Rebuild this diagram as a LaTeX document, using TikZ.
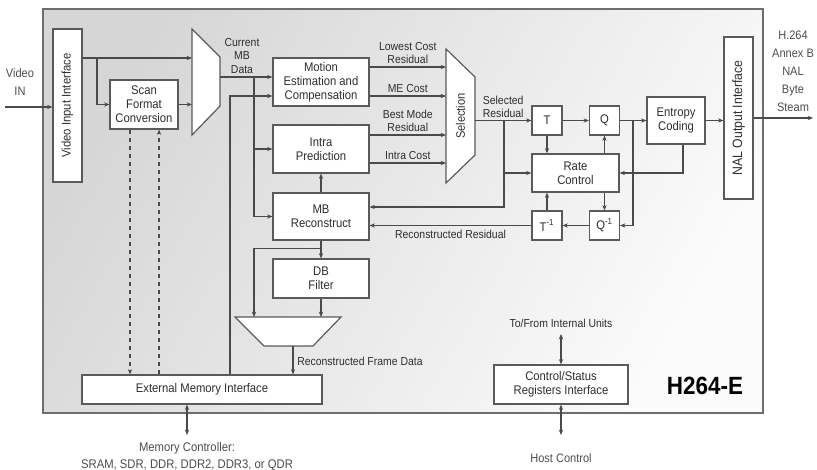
\documentclass[tikz,border=0pt]{standalone}
\usepackage{fontspec}
\setmainfont{Liberation Sans}[FakeStretch=0.9]
\usetikzlibrary{arrows.meta,calc}

\definecolor{boxline}{HTML}{5A5A5A}
\definecolor{wirec}{HTML}{4A4A4A}
\definecolor{txt}{HTML}{2E2E2E}
\definecolor{panel}{HTML}{6E6E6E}
\newcommand{\pxu}{0.75pt}

\tikzset{
	blk/.style={draw=boxline, fill=white, line width=0.9pt, align=center,
		inner sep=0pt, text=txt, font=\fontsize{9.4}{10.5}\selectfont},
	lbl/.style={align=center, inner sep=0pt, text=txt, font=\fontsize{8.7}{9.8}\selectfont},
	side/.style={align=center, inner sep=0pt, text=txt!85!white, font=\fontsize{9.2}{13.5}\selectfont},
	vtxt/.style={rotate=90, inner sep=0pt, text=txt, font=\fontsize{9.4}{11}\selectfont},
	wire/.style={draw=wirec, line width=0.8pt},
	mux/.style={draw=boxline, fill=white, line width=0.9pt, line join=miter},
}

\begin{document}
\begin{tikzpicture}[x=0.75pt, y=-0.75pt, >={Stealth[length=4pt,width=3.2pt]}]
	\useasboundingbox (0,0) rectangle (817,470);
	% shaded core panel
	\draw[draw=panel, line width=1pt, top color=gray!32, bottom color=gray!3, shading angle=60] (43,9) rectangle (763,413);

	% interfaces
	\node[blk, minimum width=29*\pxu, minimum height=153*\pxu] (vin) at (67.5,105.5) {};
	\node[vtxt] (vintxt) at (vin) {Video Input Interface};
	\node[blk, minimum width=29*\pxu, minimum height=162*\pxu] (nal) at (738.5,118) {};
	\node[vtxt, font=\fontsize{10.2}{12}\selectfont] (naltxt) at (nal) {NAL Output Interface};
	\node[blk, minimum width=240*\pxu, minimum height=29*\pxu] (emi) at (202,389.5) {External Memory Interface};
	\node[blk, minimum width=134*\pxu, minimum height=39*\pxu] (csr) at (561,384.5) {Control/Status\\Registers Interface};

	% processing blocks
	\node[blk, minimum width=68*\pxu, minimum height=49*\pxu] (sfc) at (144,104.5) {Scan\\Format\\Conversion};
	\node[blk, minimum width=96*\pxu, minimum height=48*\pxu] (me) at (321,82) {Motion\\Estimation and\\Compensation};
	\node[blk, minimum width=96*\pxu, minimum height=48*\pxu] (ip) at (321,149) {Intra\\Prediction};
	\node[blk, minimum width=96*\pxu, minimum height=47*\pxu] (mbr) at (321,216.5) {MB\\Reconstruct};
	\node[blk, minimum width=96*\pxu, minimum height=39*\pxu] (dbf) at (321,278.5) {DB\\Filter};
	\node[blk, minimum width=30*\pxu, minimum height=29*\pxu] (tq) at (547,120.5) {T};
	\node[blk, minimum width=30*\pxu, minimum height=29*\pxu] (qq) at (604.5,120.5) {Q};
	\node[blk, minimum width=87*\pxu, minimum height=38*\pxu] (rc) at (575.5,173) {Rate\\Control};
	\node[blk, minimum width=30*\pxu, minimum height=29*\pxu] (tinv) at (547,225.5) {T\textsuperscript{-1}};
	\node[blk, minimum width=30*\pxu, minimum height=29*\pxu] (qinv) at (604.5,225.5) {Q\textsuperscript{-1}};
	\node[blk, minimum width=58*\pxu, minimum height=47*\pxu] (ent) at (676,120.5) {Entropy\\Coding};

	% multiplexers
	\draw[mux] (192,29) -- (220,57) -- (220,106) -- (192,135) -- cycle;
	\coordinate (mxin1) at (192,58);
	\coordinate (mxin2) at (192,104.5);
	\coordinate (mxout) at (220,77);
	\draw[mux] (446,49) -- (475,77) -- (475,155) -- (446,183) -- cycle;
	\node[vtxt, font=\fontsize{9.2}{11}\selectfont] (seltxt) at (460.5,116) {Selection};
	\coordinate (si1) at (446,67);
	\coordinate (si2) at (446,96);
	\coordinate (si3) at (446,135);
	\coordinate (si4) at (446,163);
	\coordinate (selout) at (475,120.5);
	\draw[mux] (235,317) -- (341,317) -- (313,346) -- (264,346) -- cycle;
	\coordinate (mgin1) at (254,317);
	\coordinate (mgin2) at (321,317);
	\coordinate (mgout) at (293,346);

	% video in
	\coordinate (vidin) at (5,107);
	\node[side] (vidtxt) at (20,82) {Video\\IN};
	\draw[wire,->] (vidin) -- (vidin -| vin.west);
	\draw[wire,->] (mxin1 -| vin.east) -- (mxin1);
	\coordinate (sp1) at (97,58);
	\draw[wire,->] (sp1) |- (sfc.west);
	\draw[wire,->] (sfc.east) -- (mxin2);

	% current MB to the predictors
	\node[lbl] (cmb) at (242,56) {Current\\MB\\Data};
	\draw[wire,->] (mxout) -- (mxout -| me.west);
	\coordinate (sp2) at (254,77);
	\draw[wire,->] (sp2) |- (ip.west);
	\draw[wire,->] (sp2) |- (mbr.west);
	\draw[wire,->] ($(emi.north)+(28,0)$) |- ($(me.west)+(0,14)$);

	% candidates into selection
	\foreach \src/\dst/\txt in {me/si1/{Lowest Cost\\Residual}, me/si2/{ME Cost},
			ip/si3/{Best Mode\\Residual}, ip/si4/{Intra Cost}}
		\draw[wire,->] (\dst -| \src.east) -- node[lbl, above=2pt] {\txt} (\dst);

	% transform / quant loop
	\draw[wire,->] (selout) -- node[lbl, above=2pt] {Selected\\Residual} (tq.west);
	\coordinate (sp3) at (504,120.5);
	\draw[wire,->] (sp3) |- (rc.west);
	\draw[wire,->] (sp3) |- ($(mbr.east)+(0,-9.5)$);
	\draw[wire,->] (tq.east) -- (qq.west);
	\draw[wire,->] (tq.south) -- (tq.south |- rc.north);
	\draw[wire,->] (qq.south |- rc.north) -- (qq.south);
	\draw[wire,->] (qinv.north |- rc.south) -- (qinv.north);
	\draw[wire,->] (tinv.north) -- (tinv.north |- rc.south);
	\draw[wire,->] (qinv.west) -- (tinv.east);
	\draw[wire,->] (tinv.west) -- node[lbl, below=3pt] {Reconstructed Residual} (tinv.west -| mbr.east);
	\draw[wire,->] (qq.east) -- (ent.west);
	\coordinate (sp4) at (633,120.5);
	\draw[wire,->] (sp4) |- (qinv.east);
	\draw[wire,->] (ent.east) -- (ent.east -| nal.west);
	\draw[wire,->] ($(ent.south)+(7,0)$) |- (rc.east);

	% output stream
	\coordinate (bsout) at (813,118);
	\draw[wire,->] (nal.east) -- (bsout -| nal.east) -- (bsout);
	\node[side] (bstxt) at (793,71) {H.264\\Annex B\\NAL\\Byte\\Steam};

	% reconstruction and deblocking
	\draw[wire,->] (mbr.north) -- (ip.south);
	\draw[wire,->] (mbr.south) -- (dbf.north);
	\draw[wire,->] ($(mbr.south)+(0,8)$) -| (mgin1);
	\draw[wire,->] (dbf.south) -- (mgin2);
	\draw[wire,->] (mgout) -- (mgout |- emi.north);
	\node[lbl, anchor=west] (rfd) at (297,361) {Reconstructed Frame Data};

	% scan conversion through external memory
	\coordinate (scdn) at ($(sfc.south)+(-14,0)$);
	\coordinate (scup) at ($(sfc.south)+(15,0)$);
	\draw[wire,->,dashed] (scdn) -- (scdn |- emi.north);
	\draw[wire,->,dashed] (scup |- emi.north) -- (scup);

	% external connections
	\coordinate (mc) at (187,435);
	\draw[wire,<->] (mc |- emi.south) -- (mc);
	\node[side, font=\fontsize{9.4}{12.8}\selectfont] (mctxt) at (187,456.5) {Memory Controller:\\SRAM, SDR, DDR, DDR2, DDR3, or QDR};
	\coordinate (iu) at (561,334);
	\draw[wire,<->] (csr.north) -- (iu);
	\node[lbl] (iutxt) at (561,323) {To/From Internal Units};
	\coordinate (hc) at (561,435);
	\draw[wire,<->] (csr.south) -- (hc);
	\node[side] (hctxt) at (561,458) {Host Control};

	\node[inner sep=0pt, text=black, font=\bfseries\fontsize{18.7}{20}\selectfont] (title) at (705,386) {H264-E};
\end{tikzpicture}
\end{document}
